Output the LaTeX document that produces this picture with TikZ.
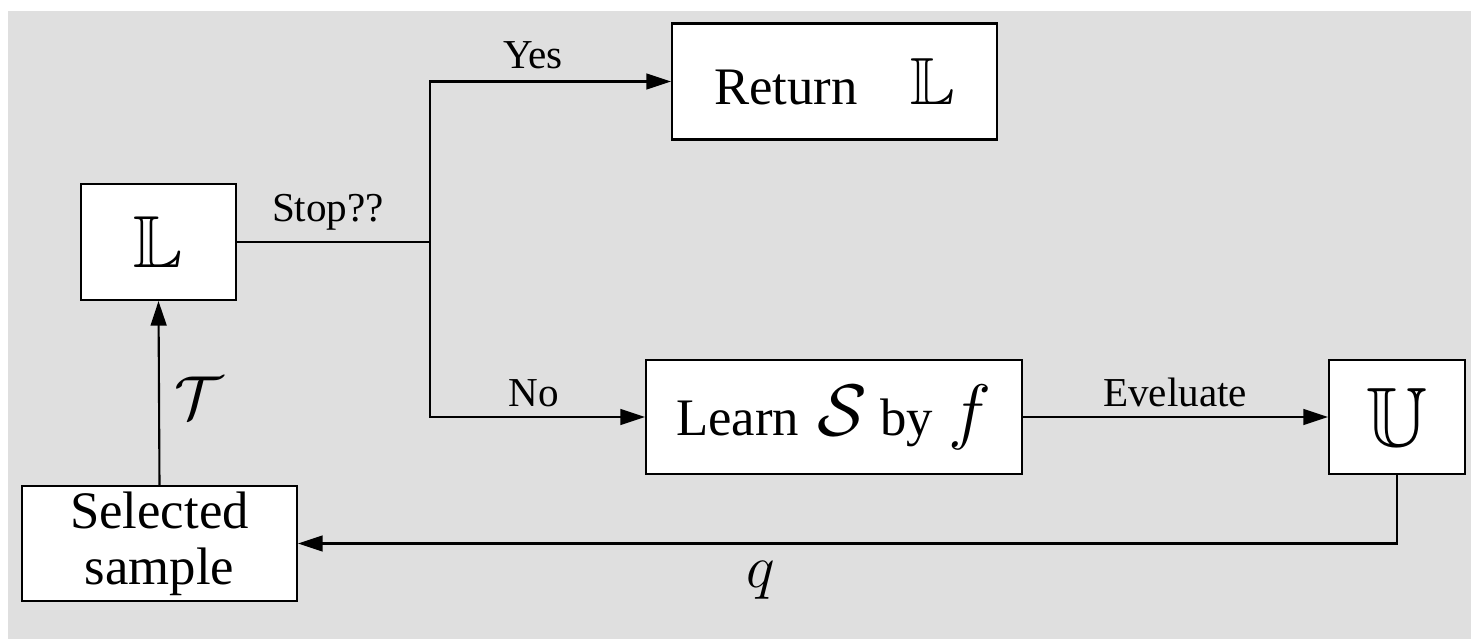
\documentclass[tikz,border=0pt]{standalone}
\usepackage{fontspec}
\usepackage{amsmath}
\usepackage{amssymb}
\setmainfont{Liberation Serif}
\usetikzlibrary{arrows.meta}

\begin{document}
\begin{tikzpicture}[
    blockbox/.style={draw, fill=white, line width=0.6pt, inner sep=0pt,
                     font=\fontsize{15}{16}\selectfont, align=center},
    flowline/.style={line width=0.6pt},
    flowarrow/.style={line width=0.6pt, -{Triangle[length=7pt,width=4.5pt]}},
    edgelabel/.style={font=\fontsize{11.7}{13}\selectfont}
    ]

        %Page and grey background
        \useasboundingbox (0,0) rectangle (14.71,-6.39);
        \fill[white] (0,0) rectangle (14.71,-6.39);
        \fill[gray!25] (0.08,-0.11) rectangle (14.71,-6.39);

        %Boxes
        \node[blockbox, minimum width=1.55cm, minimum height=1.16cm] (lset) at (1.585,-2.42) {\fontsize{21}{22}\selectfont$\mathbb{L}$};
        \node[blockbox, minimum width=3.25cm, minimum height=1.16cm] (ret) at (8.345,-0.815) {Return\quad{\fontsize{19}{20}\selectfont$\mathbb{L}$}};
        \node[blockbox, minimum width=3.76cm, minimum height=1.14cm] (learn) at (8.34,-4.17) {Learn\hspace{0.35em}{\fontsize{22}{22}\selectfont$\mathcal{S}$} by\hspace{0.3em}{\fontsize{20}{20}\selectfont$f$}};
        \node[blockbox, minimum width=1.36cm, minimum height=1.14cm] (uset) at (13.97,-4.17) {\fontsize{24}{25}\selectfont$\mathbb{U}$};
        \node[blockbox, minimum width=2.75cm, minimum height=1.15cm] (sel) at (1.595,-5.435) {Selected\\[0pt]sample};

        %Stop test and the two branches
        \coordinate (split) at (4.30,-2.42);
        \draw[flowline] (lset.east) -- (split);
        \draw[flowarrow] (split) |- (ret.west);
        \draw[flowarrow] (split) |- (learn.west);
        \node[edgelabel] (stoplbl) at (3.28,-2.12) {Stop??};
        \node[edgelabel] (yeslbl) at (5.33,-0.55) {Yes};
        \node[edgelabel] (nolbl) at (5.34,-3.93) {No};

        %Evaluate, query and update
        \draw[flowarrow] (learn.east) -- (uset.west);
        \node[edgelabel] (evallbl) at (11.75,-3.92) {Eveluate};
        \draw[flowarrow] (uset.south) |- (sel.east);
        \node (qlbl) at (7.61,-5.80) {\fontsize{17}{18}\selectfont$q$};
        \draw[flowarrow] (sel.north) -- (lset.south);
        \node (tlbl) at (1.99,-3.98) {\fontsize{19}{20}\selectfont$\mathcal{T}$};

    \end{tikzpicture}
\end{document}
